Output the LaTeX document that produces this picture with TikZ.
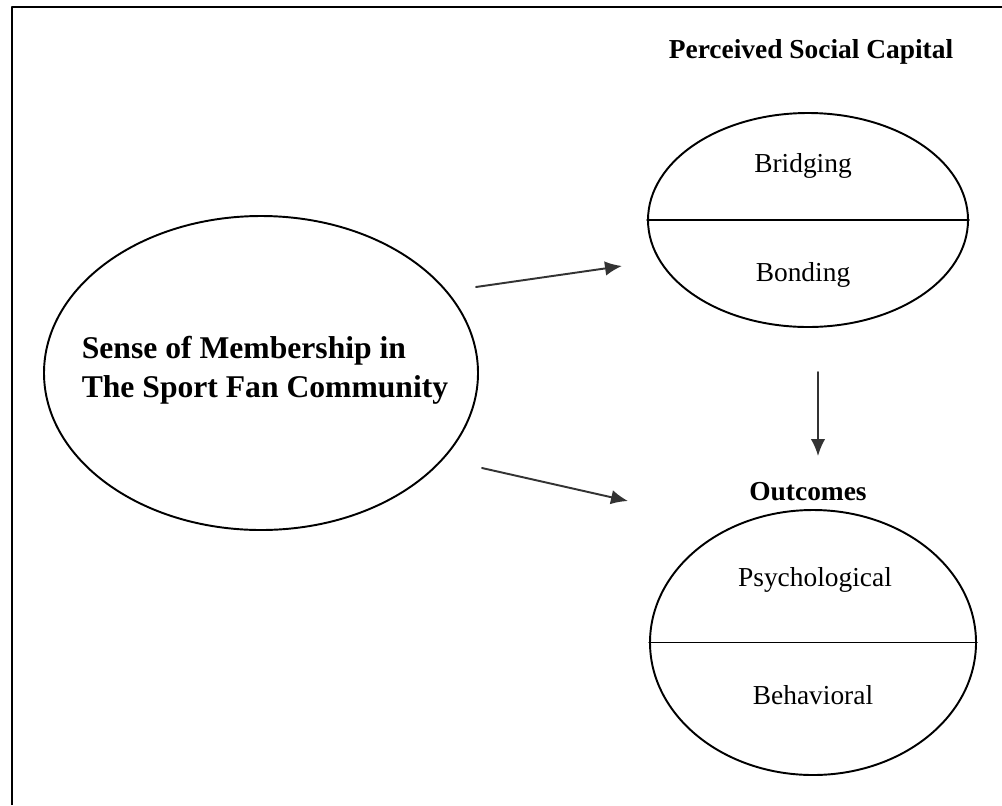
\documentclass[tikz,border=0pt]{standalone}
\usepackage{fontspec}
\setmainfont{Liberation Serif}
\usepackage{tikz}
\usetikzlibrary{shapes,arrows,arrows.meta}
\usetikzlibrary{calc}
\tikzstyle{every path}=[line width=1.1pt,line cap=round,line join=round]
\tikzstyle{oval}=[draw,ellipse,inner sep=0pt]
\tikzstyle{lbl}=[font=\fontsize{15.6}{18}\selectfont]
\tikzstyle{heading}=[font=\fontsize{15.6}{18}\selectfont\bfseries]
\tikzstyle{link}=[-{Latex[length=3.4mm,width=2.9mm]},black!80]

\begin{document}
\begin{tikzpicture}
\useasboundingbox (0,0) rectangle (20.04,-16.1);
\draw [line width=1.7pt,line cap=butt](0.24,-16.1) -- (0.24,-0.14) -- (20.04,-0.14);

% membership
\node [oval,minimum width=8.68cm,minimum height=6.28cm] (member) at (5.22,-7.46) {};
\node [align=left,font=\fontsize{18}{22}\selectfont\bfseries] (membertxt) at (5.3,-7.4) {Sense of Membership in\\The Sport Fan Community};

% social capital
\node [heading] (capital) at (16.22,-1.04) {Perceived Social Capital};
\node [oval,minimum width=6.4cm,minimum height=4.28cm] (cap) at (16.16,-4.4) {};
\draw [line width=0.9pt](cap.west) -- (cap.east);
\node [lbl] (bridging) at (16.06,-3.32) {Bridging};
\node [lbl] (bonding) at (16.06,-5.5) {Bonding};

% outcomes
\node [heading] (outcomes) at (16.16,-9.84) {Outcomes};
\node [oval,minimum width=6.52cm,minimum height=5.3cm] (out) at (16.26,-12.85) {};
\draw [line width=0.9pt](out.west) -- (out.east);
\node [lbl] (psych) at (16.3,-11.6) {Psychological};
\node [lbl] (behav) at (16.26,-13.9) {Behavioral};

% arrows
\coordinate (a1s) at (9.52,-5.74);
\coordinate (a1e) at (12.44,-5.32);
\coordinate (a2s) at (9.64,-9.36);
\coordinate (a2e) at (12.56,-10.02);
\coordinate (a3s) at (16.36,-7.44);
\coordinate (a3e) at (16.36,-9.12);
\draw [link](a1s) -- (a1e);
\draw [link](a2s) -- (a2e);
\draw [link](a3s) -- (a3e);

\end{tikzpicture}
\end{document}
